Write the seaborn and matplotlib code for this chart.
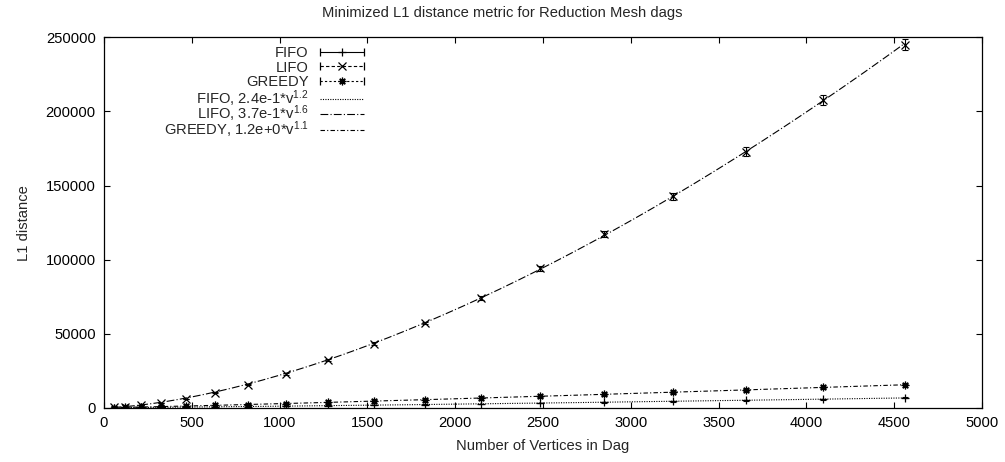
import numpy as np
import matplotlib
matplotlib.use("Agg")
import matplotlib.pyplot as plt
import seaborn as sns
from matplotlib.lines import Line2D
from matplotlib.legend_handler import HandlerLine2D

# ---- data ----
vertices = [55, 120, 210, 325, 465, 630, 820, 1035, 1275, 1540,
            1830, 2145, 2485, 2850, 3240, 3655, 4095, 4560]
fifo = [30, 80, 160, 270, 410, 590, 820, 1080, 1400, 1750,
        2150, 2600, 3100, 3700, 4350, 5050, 5800, 6600]
fifo_err = [10, 20, 30, 40, 50, 60, 80, 100, 120, 140,
            160, 180, 200, 230, 260, 290, 320, 360]
lifo = [200, 700, 1600, 3000, 6000, 10200, 15500, 22800, 32300, 43300,
        57200, 74200, 94000, 117000, 142800, 172800, 208000, 245000]
lifo_err = [20, 50, 80, 120, 200, 300, 400, 500, 650, 800,
            1000, 1300, 1600, 2000, 2400, 2900, 3400, 3800]
greedy = [110, 260, 480, 780, 1150, 1600, 2150, 2800, 3550, 4450,
          5450, 6600, 7800, 9050, 10400, 11950, 13750, 15500]
greedy_err = [15, 30, 45, 60, 80, 100, 120, 140, 160, 180,
              200, 230, 260, 290, 320, 350, 380, 420]

series_labels = ["FIFO", "LIFO", "GREEDY"]
fit_labels = [r"FIFO, 2.4e-1*v$^{1.2}$", r"LIFO, 3.7e-1*v$^{1.6}$",
              r"GREEDY, 1.2e+0*v$^{1.1}$"]
x_ticks = [0, 500, 1000, 1500, 2000, 2500, 3000, 3500, 4000, 4500, 5000]
y_ticks = [0, 50000, 100000, 150000, 200000, 250000]

title = "Minimized L1 distance metric for Reduction Mesh dags"
x_label = "Number of Vertices in Dag"
y_label = "L1 distance"

# ---- style ----
sns.set_style("ticks")
plt.rcParams["font.family"] = ["Liberation Sans", "DejaVu Sans"]
plt.rcParams["mathtext.fontset"] = "custom"
plt.rcParams["mathtext.rm"] = "Liberation Sans"
plt.rcParams["mathtext.it"] = "Liberation Sans"
plt.rcParams["axes.linewidth"] = 0.9
plt.rcParams["xtick.direction"] = "in"
plt.rcParams["ytick.direction"] = "in"

FS = 10.6
fig = plt.figure(figsize=(10.05, 4.62), dpi=100)
ax = fig.add_axes([0.1035, 0.1175, 0.8735, 0.8015])

data_styles = [("-", "+"), ((0, (3, 2)), "x"), ((0, (2, 2)), (8, 2, 0))]
fit_styles = [(0, (1, 1.2)), (0, (7, 2, 1, 2)), (0, (4, 2, 1, 2))]

all_y = [fifo, lifo, greedy]
all_err = [fifo_err, lifo_err, greedy_err]

v = np.array(vertices, dtype=float)
grid = np.linspace(v.min(), v.max(), 300)


def power_fit(xs, ys):
    """least-squares fit y = a * x**b in linear space"""
    best = None
    for b in np.linspace(0.8, 2.2, 1401):
        xb = xs ** b
        a = np.sum(ys * xb) / np.sum(xb * xb)
        r = np.sum((ys - a * xb) ** 2)
        if best is None or r < best[0]:
            best = (r, a, b)
    return best[1], best[2]


for ys, errs, (ls, mk) in zip(all_y, all_err, data_styles):
    ax.errorbar(vertices, ys, yerr=errs, fmt="none", ecolor="k",
                elinewidth=0.8, capsize=2.5, capthick=0.8, zorder=3)
    ax.plot(vertices, ys, ls="none", marker=mk, color="k", ms=5.5,
            mew=0.9, zorder=4)

for ys, ls in zip(all_y, fit_styles):
    a, b = power_fit(v, np.array(ys, dtype=float))
    fit = a * grid ** b
    sns.lineplot(x=grid, y=fit, ax=ax, color="k", lw=0.8,
                 linestyle=ls, zorder=2)

ax.set_xlim(0, 5000)
ax.set_ylim(0, 250000)
ax.set_xticks(x_ticks)
ax.set_yticks(y_ticks)
ax.set_xticklabels([str(t) for t in x_ticks])
ax.set_yticklabels([str(t) for t in y_ticks])
ax.tick_params(axis="both", which="both", top=True, right=True,
               length=4.5, width=0.8, labelsize=FS, pad=6, colors="k")
for sp in ax.spines.values():
    sp.set_visible(True)
    sp.set_color("k")

ax.set_xlabel(x_label, fontsize=FS, labelpad=6.2)
ax.set_ylabel(y_label, fontsize=FS, labelpad=10.4)
fig.suptitle(title, fontsize=FS, y=0.988)


class CapHandler(HandlerLine2D):
    def create_artists(self, legend, orig_handle, xdescent, ydescent,
                       width, height, fontsize, trans):
        arts = super().create_artists(legend, orig_handle, xdescent, ydescent,
                                      width, height, fontsize, trans)
        y = (height - ydescent) / 2.0
        caps = Line2D([-xdescent, width - xdescent], [y, y], ls="none",
                      marker="|", color="k", ms=6, mew=0.9, transform=trans)
        return list(arts) + [caps]


data_handles = []
for (ls, mk) in data_styles:
    data_handles.append(Line2D([], [], color="k", ls=ls, lw=0.8, marker=mk,
                               ms=5.5, mew=0.9))
fit_handles = []
for ls in fit_styles:
    fit_handles.append(Line2D([], [], color="k", ls=ls, lw=0.8))

common = dict(frameon=False, markerfirst=False, fontsize=FS,
              handlelength=3.0, handletextpad=0.75, borderaxespad=0,
              borderpad=0, loc="upper right")
hmap = {h: CapHandler(numpoints=1) for h in data_handles}
leg1 = ax.legend(data_handles, series_labels, handler_map=hmap,
                 bbox_to_anchor=(0.296, 0.977), labelspacing=0.04, **common)
ax.add_artist(leg1)
leg2 = ax.legend(fit_handles, fit_labels, bbox_to_anchor=(0.296, 0.862),
                 labelspacing=-0.36, **common)

fig.savefig("out.png", dpi=100)
